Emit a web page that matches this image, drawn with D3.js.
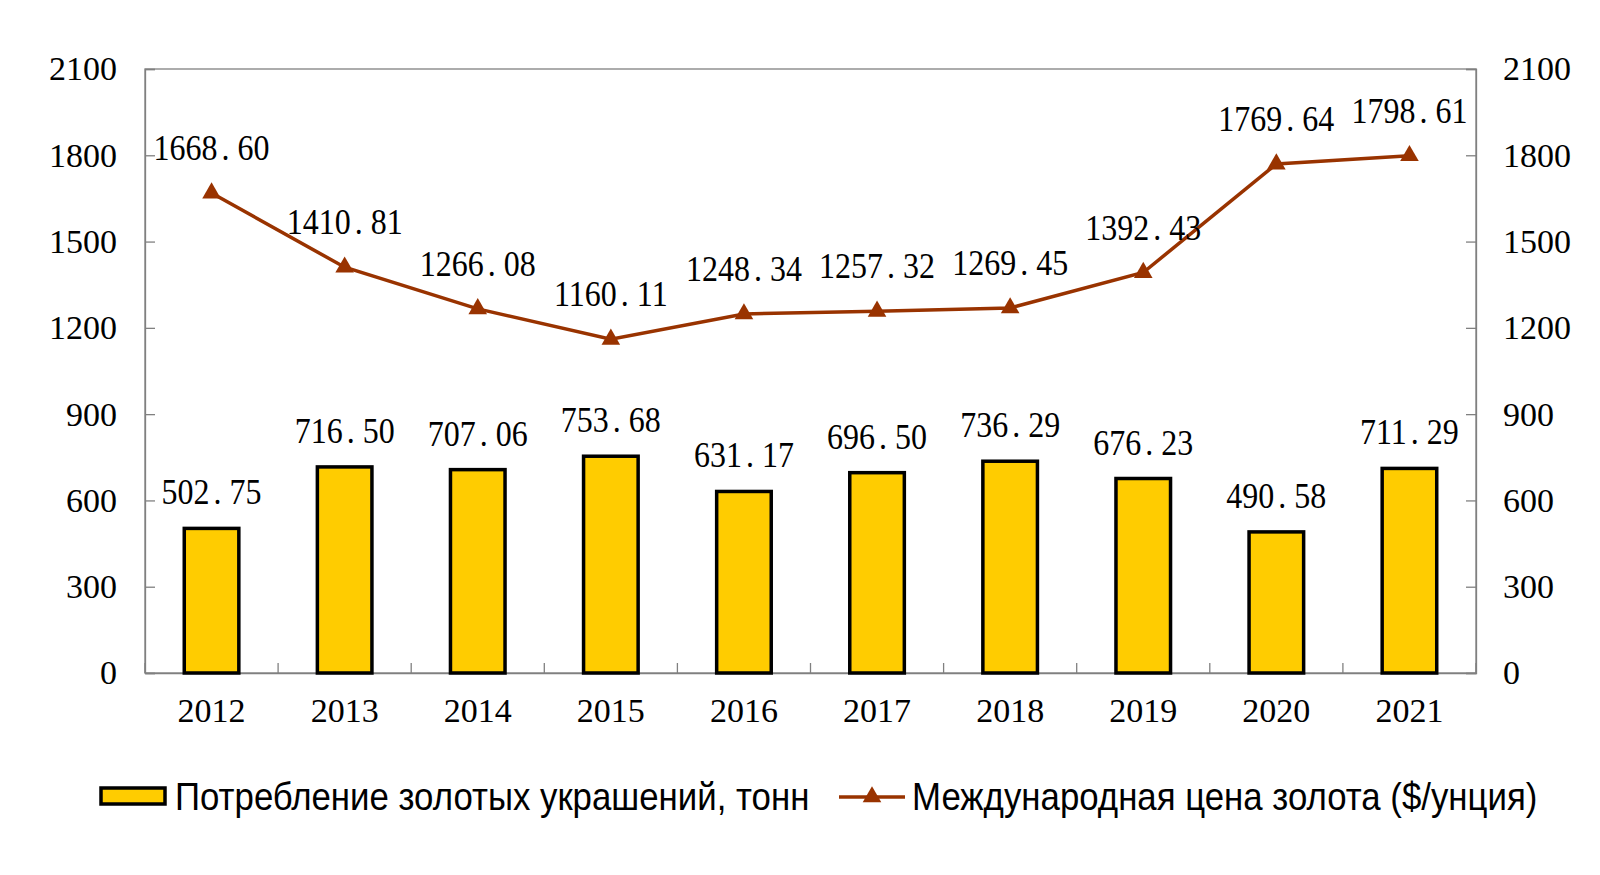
<!DOCTYPE html>
<html><head><meta charset="utf-8">
<script src="https://cdn.jsdelivr.net/npm/d3@7"></script>
<style>body{margin:0;background:#fff;}svg{display:block;}</style>
</head><body>
<script>
const years = ["2012","2013","2014","2015","2016","2017","2018","2019","2020","2021"];
const jewelry = [502.75,716.50,707.06,753.68,631.17,696.50,736.29,676.23,490.58,711.29];
const price = [1668.60,1410.81,1266.08,1160.11,1248.34,1257.32,1269.45,1392.43,1769.64,1798.61];
const yTicks = [0,300,600,900,1200,1500,1800,2100];
const legendBar = "Потребление золотых украшений, тонн";
const legendLine = "Международная цена золота ($/унция)";

const W=1600,H=875;
const m={l:145,r:1476,t:69,b:673};
const svg=d3.select("body").append("svg").attr("width",W).attr("height",H);
const x=d3.scaleBand().domain(years).range([m.l,m.r]);
const y=d3.scaleLinear().domain([0,2100]).range([m.b,m.t]);
const serif="'Liberation Serif','Times New Roman',serif";
const sans="'Liberation Sans',Arial,sans-serif";
const axisColor="#808080";
const lineColor="#993300";
const barColor="#FFCC00";

// frame
svg.append("rect").attr("x",m.l).attr("y",m.t).attr("width",m.r-m.l).attr("height",m.b-m.t)
  .attr("fill","none").attr("stroke",axisColor).attr("stroke-width",1.3);

// left axis
const la=svg.append("g").attr("transform",`translate(${m.l},0)`)
  .call(d3.axisLeft(y).tickValues(yTicks).tickSize(-10).tickPadding(28).tickFormat(d3.format("d")));
// right axis
const ra=svg.append("g").attr("transform",`translate(${m.r},0)`)
  .call(d3.axisRight(y).tickValues(yTicks).tickSize(-10).tickPadding(27).tickFormat(d3.format("d")));
// bottom axis
const ba=svg.append("g").attr("transform",`translate(0,${m.b})`)
  .call(d3.axisBottom(x).tickSize(0).tickPadding(25));
[la,ra,ba].forEach(g=>{
  g.select(".domain").attr("stroke",axisColor).attr("stroke-width",1.3);
  g.selectAll(".tick line").attr("stroke",axisColor).attr("stroke-width",1.3);
  g.selectAll("text").attr("font-family",serif).attr("font-size",34).attr("fill","#000");
});
ba.selectAll(".tick text").attr("dy","0.71em");
// category separator ticks
const seps=years.map(d=>x(d)).concat([m.r]);
svg.append("g").selectAll("line").data(seps).join("line")
  .attr("x1",d=>d).attr("x2",d=>d).attr("y1",m.b).attr("y2",m.b-10)
  .attr("stroke",axisColor).attr("stroke-width",1.3);

function valueLabel(sel){
  sel.attr("text-anchor","middle").attr("font-family",serif).attr("font-size",32).attr("fill","#000");
  sel.each(function(d){
    const s=d.toFixed(2).split(".");
    const t=d3.select(this);
    t.append("tspan").text(s[0]);
    t.append("tspan").attr("dx",4).text(".");
    t.append("tspan").attr("dx",8).text(s[1]);
  });
}

// bars
const bw=x.bandwidth()*0.41;
svg.append("g").selectAll("rect").data(jewelry).join("rect")
  .attr("x",(d,i)=>x(years[i])+x.bandwidth()/2-bw/2)
  .attr("y",d=>y(d)).attr("width",bw).attr("height",d=>y(0)-y(d))
  .attr("fill",barColor).attr("stroke","#000").attr("stroke-width",3.5);
svg.append("g").selectAll("text").data(jewelry).join("text")
  .attr("transform",(d,i)=>`translate(${x(years[i])+x.bandwidth()/2},${y(d)-24}) scale(1,1.12)`)
  .call(valueLabel);

// line
const cx=(i)=>x(years[i])+x.bandwidth()/2;
svg.append("path").datum(price)
  .attr("d",d3.line().x((d,i)=>cx(i)).y(d=>y(d)))
  .attr("fill","none").attr("stroke",lineColor).attr("stroke-width",3.5);
const tri=d3.symbol().type(d3.symbolTriangle).size(150);
svg.append("g").selectAll("path").data(price).join("path")
  .attr("d",tri).attr("transform",(d,i)=>`translate(${cx(i)},${y(d)})`)
  .attr("fill",lineColor);
svg.append("g").selectAll("text").data(price).join("text")
  .attr("transform",(d,i)=>`translate(${cx(i)},${y(d)-33}) scale(1,1.12)`)
  .call(valueLabel);

// legend
const lg=svg.append("g");
lg.append("rect").attr("x",101).attr("y",788).attr("width",64).attr("height",16)
  .attr("fill",barColor).attr("stroke","#000").attr("stroke-width",3.5);
lg.append("text").attr("transform","translate(175,797) scale(1,1.1)").attr("dy","0.35em")
  .attr("font-family",sans).attr("font-size",34.8).text(legendBar);
lg.append("line").attr("x1",839).attr("x2",905).attr("y1",797).attr("y2",797)
  .attr("stroke",lineColor).attr("stroke-width",3.5);
lg.append("path").attr("d",tri).attr("transform","translate(872,797)").attr("fill",lineColor);
lg.append("text").attr("transform","translate(912,797) scale(1,1.1)").attr("dy","0.35em")
  .attr("font-family",sans).attr("font-size",34.8).text(legendLine);
</script>
</body></html>
